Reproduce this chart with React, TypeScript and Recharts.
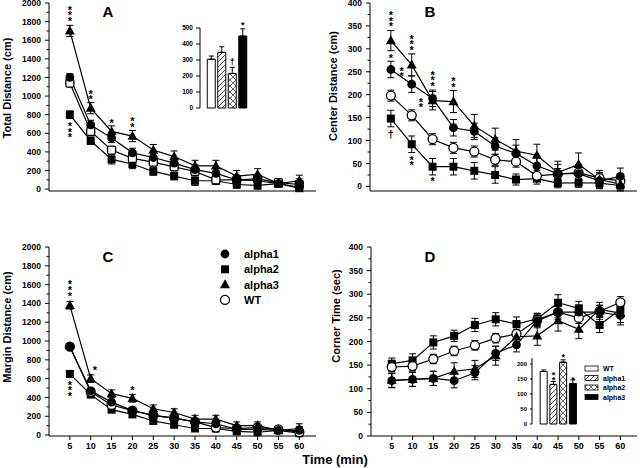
import React from 'react';
import { LineChart, Line, XAxis, YAxis, ErrorBar, ReferenceDot, BarChart, Bar, Cell } from 'recharts';

const FONT = '"Liberation Sans", Arial, Helvetica, sans-serif';

const times = [5, 10, 15, 20, 25, 30, 35, 40, 45, 50, 55, 60];
const seriesNames = ['alpha1', 'alpha2', 'alpha3', 'WT'];
const insetGroups = ['WT', 'alpha1', 'alpha2', 'alpha3'];

// Panel A: Total Distance (cm)
const totalAlpha1 = [1200, 690, 550, 390, 340, 280, 210, 170, 100, 90, 60, 20];
const totalAlpha1Err = [40, 50, 50, 50, 50, 50, 50, 60, 50, 50, 30, 40];
const totalAlpha2 = [800, 520, 320, 270, 190, 140, 90, 90, 50, 40, 60, 10];
const totalAlpha2Err = [40, 40, 50, 50, 40, 40, 50, 40, 40, 40, 30, 30];
const totalAlpha3 = [1700, 870, 620, 570, 420, 350, 250, 250, 140, 160, 60, 90];
const totalAlpha3Err = [60, 60, 60, 60, 60, 60, 60, 60, 60, 60, 40, 60];
const totalWT = [1140, 620, 420, 330, 290, 240, 190, 100, 100, 110, 70, 50];
const totalWTErr = [40, 40, 30, 40, 40, 40, 40, 40, 40, 40, 40, 60];

// Panel B: Center Distance (cm)
const centerAlpha1 = [255, 223, 192, 128, 120, 88, 72, 45, 28, 28, 12, 22];
const centerAlpha1Err = [18, 18, 18, 18, 18, 18, 18, 20, 20, 20, 15, 18];
const centerAlpha2 = [148, 92, 43, 43, 34, 25, 15, 17, 7, 8, 7, 2];
const centerAlpha2Err = [18, 18, 18, 18, 18, 18, 12, 12, 10, 10, 10, 10];
const centerAlpha3 = [318, 265, 187, 185, 132, 103, 77, 68, 30, 48, 15, 5];
const centerAlpha3Err = [22, 24, 20, 24, 25, 24, 25, 24, 25, 25, 20, 15];
const centerWT = [198, 155, 103, 84, 76, 58, 54, 23, 27, 30, 18, 12];
const centerWTErr = [12, 12, 12, 12, 12, 12, 12, 12, 12, 15, 12, 12];

// Panel C: Margin Distance (cm)
const marginAlpha1 = [940, 470, 350, 260, 210, 180, 140, 120, 60, 60, 50, 50];
const marginAlpha1Err = [30, 30, 30, 30, 30, 30, 30, 30, 30, 30, 30, 40];
const marginAlpha2 = [650, 430, 270, 220, 150, 110, 70, 70, 40, 30, 50, 20];
const marginAlpha2Err = [30, 30, 30, 30, 30, 30, 30, 30, 30, 30, 30, 30];
const marginAlpha3 = [1380, 600, 440, 390, 280, 240, 170, 170, 100, 100, 50, 70];
const marginAlpha3Err = [40, 40, 40, 40, 40, 40, 40, 40, 40, 40, 30, 50];
const marginWT = [940, 460, 320, 260, 210, 180, 140, 80, 70, 80, 60, 30];
const marginWTErr = [30, 30, 30, 30, 30, 30, 30, 30, 30, 30, 30, 30];

// Panel D: Corner Time (sec)
const cornerAlpha1 = [117, 120, 122, 117, 134, 175, 193, 244, 262, 262, 262, 255];
const cornerAlpha1Err = [15, 15, 15, 15, 15, 15, 15, 15, 15, 15, 15, 20];
const cornerAlpha2 = [153, 160, 198, 212, 235, 247, 237, 248, 282, 270, 235, 268];
const cornerAlpha2Err = [12, 14, 14, 12, 14, 14, 15, 12, 17, 15, 16, 15];
const cornerAlpha3 = [118, 120, 122, 137, 142, 170, 210, 212, 244, 226, 268, 260];
const cornerAlpha3Err = [15, 15, 15, 18, 18, 20, 20, 20, 22, 20, 15, 20];
const cornerWT = [146, 148, 163, 180, 192, 207, 216, 246, 262, 250, 264, 283];
const cornerWTErr = [10, 10, 10, 10, 10, 10, 10, 12, 12, 12, 12, 12];

// Insets (order: WT, alpha1, alpha2, alpha3)
const insetTotal = [305, 348, 216, 450];
const insetTotalErr = [20, 35, 38, 45];
const insetCorner = [175, 132, 206, 135];
const insetCornerErr = [5, 10, 8, 12];

// Significance marks
const annotA = [
  { t: 5, v: 1890, mark: '***' },
  { t: 5, v: 640, mark: '***' },
  { t: 10, v: 1020, mark: '**' },
  { t: 15, v: 735, mark: '*' },
  { t: 20, v: 720, mark: '**' },
];
const annotB = [
  { t: 5, v: 366, mark: '***' },
  { t: 5, v: 285, mark: '*' },
  { t: 5, v: 115, mark: '†' },
  { t: 10, v: 315, mark: '***' },
  { t: 7.6, v: 251, mark: '**' },
  { t: 10, v: 57, mark: '**' },
  { t: 15, v: 236, mark: '***' },
  { t: 12.2, v: 183, mark: '**' },
  { t: 15, v: 17, mark: '*' },
  { t: 20, v: 228, mark: '**' },
];
const annotC = [
  { t: 5, v: 1566, mark: '***' },
  { t: 5, v: 497, mark: '***' },
  { t: 11, v: 720, mark: '*' },
  { t: 20, v: 497, mark: '*' },
];
const annotInsetA = [
  { g: 'alpha2', v: 287, mark: '†' },
  { g: 'alpha3', v: 531, mark: '*' },
];
const annotInsetD = [
  { g: 'alpha1', v: 163, mark: '**' },
  { g: 'alpha2', v: 230, mark: '*' },
  { g: 'alpha3', v: 153, mark: '*' },
];

function buildRows(a1: number[], a1e: number[], a2: number[], a2e: number[], a3: number[], a3e: number[], wt: number[], wte: number[]) {
  return times.map((t, i) => ({
    t,
    alpha1: a1[i], alpha1Err: a1e[i],
    alpha2: a2[i], alpha2Err: a2e[i],
    alpha3: a3[i], alpha3Err: a3e[i],
    WT: wt[i], WTErr: wte[i],
  }));
}

function buildInset(vals: number[], errs: number[]) {
  return insetGroups.map((g, i) => ({ g, v: vals[i], err: [0, errs[i]] }));
}

const rowsA = buildRows(totalAlpha1, totalAlpha1Err, totalAlpha2, totalAlpha2Err, totalAlpha3, totalAlpha3Err, totalWT, totalWTErr);
const rowsB = buildRows(centerAlpha1, centerAlpha1Err, centerAlpha2, centerAlpha2Err, centerAlpha3, centerAlpha3Err, centerWT, centerWTErr);
const rowsC = buildRows(marginAlpha1, marginAlpha1Err, marginAlpha2, marginAlpha2Err, marginAlpha3, marginAlpha3Err, marginWT, marginWTErr);
const rowsD = buildRows(cornerAlpha1, cornerAlpha1Err, cornerAlpha2, cornerAlpha2Err, cornerAlpha3, cornerAlpha3Err, cornerWT, cornerWTErr);
const insetAData = buildInset(insetTotal, insetTotalErr);
const insetDData = buildInset(insetCorner, insetCornerErr);

function Marker({ cx, cy, kind }: { cx?: number; cy?: number; kind: string }) {
  if (cx == null || cy == null || isNaN(cx) || isNaN(cy)) return null;
  switch (kind) {
    case 'circle':
      return <circle cx={cx} cy={cy} r={4.4} fill="#000" />;
    case 'square':
      return <rect x={cx - 4} y={cy - 4} width={8} height={8} fill="#000" />;
    case 'triangle':
      return <polygon points={`${cx},${cy - 5.3} ${cx + 5},${cy + 3.6} ${cx - 5},${cy + 3.6}`} fill="#000" />;
    case 'openSquare':
      return <rect x={cx - 4} y={cy - 4} width={8} height={8} rx={1.5} fill="#fff" stroke="#000" strokeWidth={1.3} />;
    default:
      return <circle cx={cx} cy={cy} r={4.5} fill="#fff" stroke="#000" strokeWidth={1.3} />;
  }
}

function YTick(props: any) {
  const { x, y, payload, every, margin, fs, major = 4, minor = 2.5 } = props;
  const v = payload.value;
  const isMajor = Math.round(v) % every === 0;
  const ax = x + margin;
  return (
    <g>
      <line x1={ax - (isMajor ? major : minor)} x2={ax} y1={y} y2={y} stroke="#000" strokeWidth={1} />
      {isMajor && (
        <text x={x} y={y} dy={fs * 0.36} textAnchor="end" fontSize={fs} fontWeight="bold" fontFamily={FONT} fill="#000">
          {v}
        </text>
      )}
    </g>
  );
}

function StarStack({ cx, cy, mark, fs = 11, gap = 5.6 }: { cx: number; cy: number; mark: string; fs?: number; gap?: number }) {
  const chars = mark.split('');
  const n = chars.length;
  return (
    <g>
      {chars.map((c, i) => (
        <text key={i} x={cx} y={cy + (i - (n - 1) / 2) * gap} dy={c === '*' ? fs * 0.56 : fs * 0.36}
          textAnchor="middle" fontSize={fs} fontWeight="bold" fontFamily={FONT} fill="#000">{c}</text>
      ))}
    </g>
  );
}

const lineOrder = [
  { key: 'alpha2', kind: 'square' },
  { key: 'WT', kind: 'open' },
  { key: 'alpha1', kind: 'circle' },
  { key: 'alpha3', kind: 'triangle' },
];

function Panel(props: any) {
  const { rows, yMax, yStep, labelEvery, showXLabels, wtKind, annotations, width, height, margin, yWidth, xHeight, style } = props;
  const yTicks: number[] = [];
  for (let v = 0; v <= yMax + 1e-9; v += yStep) yTicks.push(v);
  return (
    <div style={style}>
      <LineChart width={width} height={height} data={rows} margin={margin}>
        <XAxis dataKey="t" type="number" domain={[0, 64]} ticks={times} interval={0} height={xHeight}
          tickSize={4} tickMargin={3} axisLine={{ stroke: '#000' }} tickLine={{ stroke: '#000' }}
          tick={showXLabels ? { fontSize: 9, fontWeight: 'bold', fill: '#000', fontFamily: FONT } : false} />
        <YAxis type="number" domain={[0, yMax]} ticks={yTicks} interval={0} width={yWidth}
          tickSize={0} tickMargin={8} tickLine={false} axisLine={{ stroke: '#000' }}
          tick={<YTick every={labelEvery} margin={8} fs={8.5} />} />
        {lineOrder.map((s) => {
          const kind = s.key === 'WT' ? wtKind : s.kind;
          return (
            <Line key={s.key} dataKey={s.key} isAnimationActive={false} stroke="#000" strokeWidth={1.2}
              activeDot={false}
              dot={(p: any) => <Marker key={`${s.key}-${p.index}`} cx={p.cx} cy={p.cy} kind={kind} />}>
              <ErrorBar dataKey={`${s.key}Err`} width={3.5} stroke="#000" strokeWidth={1} direction="y" isAnimationActive={false} />
            </Line>
          );
        })}
        {annotations.map((a: any, i: number) => (
          <ReferenceDot key={i} x={a.t} y={a.v} r={0} ifOverflow="visible"
            shape={(p: any) => <StarStack cx={p.cx} cy={p.cy} mark={a.mark} />} />
        ))}
      </LineChart>
    </div>
  );
}

function Patterns({ prefix }: { prefix: string }) {
  return (
    <defs>
      <pattern id={`${prefix}-hatch`} patternUnits="userSpaceOnUse" width={5} height={5}>
        <rect width={5} height={5} fill="#fff" />
        <path d="M-1,1 L1,-1 M0,5 L5,0 M4,6 L6,4" stroke="#000" strokeWidth={0.7} />
      </pattern>
      <pattern id={`${prefix}-cross`} patternUnits="userSpaceOnUse" width={6} height={6}>
        <rect width={6} height={6} fill="#fff" />
        <path d="M0,6 L6,0 M0,0 L6,6" stroke="#000" strokeWidth={0.6} />
      </pattern>
    </defs>
  );
}

function fillFor(prefix: string, g: string) {
  if (g === 'WT') return '#fff';
  if (g === 'alpha1') return `url(#${prefix}-hatch)`;
  if (g === 'alpha2') return `url(#${prefix}-cross)`;
  return '#000';
}

function Inset(props: any) {
  const { data, yMax, yStep, width, height, margin, yWidth, padding, annotations, prefix, tickMargin, tickLen, fs, style } = props;
  const yTicks: number[] = [];
  for (let v = 0; v <= yMax + 1e-9; v += yStep) if (v <= yMax) yTicks.push(v);
  const domainMax = props.domainMax ?? yMax;
  return (
    <div style={style}>
      <BarChart width={width} height={height} data={data} margin={margin} barCategoryGap="12%">
        <Patterns prefix={prefix} />
        <XAxis dataKey="g" height={0} tick={false} tickLine={false} axisLine={{ stroke: '#000' }} padding={padding} />
        <YAxis type="number" domain={[0, domainMax]} ticks={yTicks} interval={0} width={yWidth}
          tickSize={0} tickMargin={tickMargin} tickLine={false} axisLine={{ stroke: '#000' }}
          tick={<YTick every={yStep} margin={tickMargin} fs={fs} major={tickLen} />} />
        <Bar dataKey="v" isAnimationActive={false} stroke="#000" strokeWidth={1}>
          {data.map((d: any) => <Cell key={d.g} fill={fillFor(prefix, d.g)} />)}
          <ErrorBar dataKey="err" width={2.5} stroke="#000" strokeWidth={1} direction="y" isAnimationActive={false} />
        </Bar>
        {annotations.map((a: any, i: number) => (
          <ReferenceDot key={i} x={a.g} y={a.v} r={0} ifOverflow="visible"
            shape={(p: any) => <StarStack cx={p.cx} cy={p.cy} mark={a.mark} fs={9} gap={5} />} />
        ))}
      </BarChart>
    </div>
  );
}

const legendKinds: Record<string, string> = { alpha1: 'circle', alpha2: 'square', alpha3: 'triangle', WT: 'open' };

export default function App() {
  const txt = { fontFamily: FONT, fontWeight: 'bold' as const, fill: '#000' };
  return (
    <div style={{ position: 'absolute', left: 0, top: 0, width: 640, height: 468, background: '#fff', fontFamily: FONT, overflow: 'hidden' }}>
      <Panel rows={rowsA} yMax={2000} yStep={100} labelEvery={200} showXLabels={false} wtKind="openSquare"
        annotations={annotA} width={320} height={206} margin={{ top: 9, right: 4, bottom: 0, left: 0 }}
        yWidth={49} xHeight={9} style={{ position: 'absolute', left: 0, top: -6 }} />
      <Panel rows={rowsB} yMax={400} yStep={25} labelEvery={50} showXLabels={false} wtKind="open"
        annotations={annotB} width={320} height={206} margin={{ top: 9, right: 3, bottom: 0, left: 0 }}
        yWidth={50} xHeight={9} style={{ position: 'absolute', left: 320, top: -6 }} />
      <Panel rows={rowsC} yMax={2000} yStep={100} labelEvery={200} showXLabels={true} wtKind="open"
        annotations={annotC} width={320} height={226} margin={{ top: 17, right: 4, bottom: 0, left: 0 }}
        yWidth={49} xHeight={20} style={{ position: 'absolute', left: 0, top: 230 }} />
      <Panel rows={rowsD} yMax={400} yStep={25} labelEvery={50} showXLabels={true} wtKind="open"
        annotations={[]} width={320} height={226} margin={{ top: 17, right: 3, bottom: 0, left: 0 }}
        yWidth={51} xHeight={20} style={{ position: 'absolute', left: 320, top: 230 }} />

      <Inset data={insetAData} yMax={500} yStep={100} width={90} height={96} margin={{ top: 8, right: 2, bottom: 8, left: 0 }}
        yWidth={30} padding={{ left: 6, right: 10 }} annotations={annotInsetA} prefix="ia" tickMargin={7} tickLen={4} fs={6.5}
        style={{ position: 'absolute', left: 170, top: 20 }} />
      <Inset data={insetDData} yMax={200} domainMax={220} yStep={50} width={82} height={82} margin={{ top: 8, right: 2, bottom: 8, left: 0 }}
        yWidth={32} padding={{ left: 7, right: 2 }} annotations={annotInsetD} prefix="id" tickMargin={5} tickLen={2} fs={6}
        style={{ position: 'absolute', left: 500, top: 350 }} />

      <svg width={640} height={468} style={{ position: 'absolute', left: 0, top: 0, pointerEvents: 'none' }}>
        <Patterns prefix="lg" />
        <text x={108} y={17} textAnchor="middle" fontSize={15} {...txt}>A</text>
        <text x={430} y={17} textAnchor="middle" fontSize={15} {...txt}>B</text>
        <text x={108} y={262} textAnchor="middle" fontSize={15} {...txt}>C</text>
        <text x={430} y={262} textAnchor="middle" fontSize={15} {...txt}>D</text>

        <text transform="translate(11,88) rotate(-90)" textAnchor="middle" fontSize={11} {...txt}>Total Distance (cm)</text>
        <text transform="translate(337,86) rotate(-90)" textAnchor="middle" fontSize={11} {...txt}>Center Distance (cm)</text>
        <text transform="translate(11,327) rotate(-90)" textAnchor="middle" fontSize={11} {...txt}>Margin Distance (cm)</text>
        <text transform="translate(340,316) rotate(-90)" textAnchor="middle" fontSize={11} {...txt}>Corner Time (sec)</text>

        <text x={335} y={464} textAnchor="middle" fontSize={13} {...txt}>Time (min)</text>

        {seriesNames.map((s, i) => (
          <g key={s}>
            <Marker cx={225} cy={254 + i * 15.3} kind={legendKinds[s]} />
            <text x={244} y={254 + i * 15.3 + 4} fontSize={11} {...txt}>{s}</text>
          </g>
        ))}

        {insetGroups.map((g, i) => (
          <g key={g}>
            <rect x={585} y={366 + i * 9.5} width={13} height={5} fill={fillFor('lg', g)} stroke="#000" strokeWidth={0.8} />
            <text x={603} y={366 + i * 9.5 + 5} fontSize={7} {...txt}>{g}</text>
          </g>
        ))}
      </svg>
    </div>
  );
}
